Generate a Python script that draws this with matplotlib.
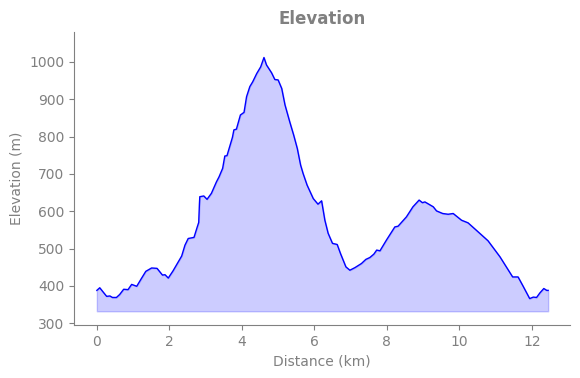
import matplotlib
matplotlib.use("Agg")
import matplotlib.pyplot as plt

distance_km = [0.0, 0.08, 0.17, 0.27, 0.36, 0.43, 0.54, 0.63, 0.74, 0.86, 0.96, 1.10,
               1.23, 1.35, 1.51, 1.66, 1.81, 1.88, 1.97, 2.10, 2.22, 2.34, 2.43, 2.52,
               2.68, 2.77, 2.81, 2.83, 2.84, 2.95, 3.04, 3.16, 3.30, 3.37, 3.47, 3.53,
               3.59, 3.74, 3.78, 3.85, 3.96, 4.06, 4.13, 4.22, 4.30, 4.41, 4.52, 4.61,
               4.68, 4.82, 4.91, 5.00, 5.10, 5.19, 5.32, 5.43, 5.53, 5.62, 5.69, 5.80,
               5.97, 6.10, 6.20, 6.29, 6.38, 6.50, 6.63, 6.72, 6.87, 6.98, 7.12, 7.30,
               7.42, 7.53, 7.64, 7.72, 7.81, 7.99, 8.22, 8.31, 8.54, 8.72, 8.89, 8.98,
               9.05, 9.28, 9.37, 9.54, 9.69, 9.83, 10.06, 10.24, 10.47, 10.79, 11.12,
               11.47, 11.62, 11.76, 11.94, 12.04, 12.13, 12.22, 12.33, 12.41, 12.45]
elevation_m = [388, 395, 384, 372, 373, 369, 369, 377, 391, 390, 404, 399,
               420, 439, 448, 447, 429, 430, 421, 440, 460, 480, 509, 527,
               530, 558, 570, 620, 639, 641, 632, 648, 679, 692, 715, 748,
               749, 798, 818, 820, 858, 865, 907, 934, 947, 969, 987, 1012,
               992, 971, 953, 952, 929, 885, 840, 804, 768, 724, 701, 670,
               634, 619, 628, 576, 541, 514, 511, 487, 451, 442, 449, 460,
               471, 476, 485, 496, 494, 523, 558, 560, 585, 612, 630, 623,
               625, 612, 601, 594, 592, 594, 576, 569, 549, 521, 478,
               424, 424, 399, 366, 370, 369, 381, 393, 388, 388]
fill_base = 332

fig = plt.figure(figsize=(5.8, 3.78), dpi=100)
ax = fig.add_axes([0.1276, 0.140, 0.855, 0.775])

ax.fill_between(distance_km, fill_base, elevation_m, color="blue", alpha=0.2)
ax.plot(distance_km, elevation_m, color="blue", linewidth=1.0)

ax.set_xlim(-0.63, 13.05)
ax.set_ylim(295, 1080)
ax.set_xticks([0, 2, 4, 6, 8, 10, 12])
ax.set_yticks([300, 400, 500, 600, 700, 800, 900, 1000])

ax.set_title("Elevation", fontsize=12, fontweight="bold", color="gray")
ax.set_xlabel("Distance (km)", color="gray")
ax.set_ylabel("Elevation (m)", color="gray")

for s in ["top", "right"]:
    ax.spines[s].set_visible(False)
for s in ["left", "bottom"]:
    ax.spines[s].set_color("gray")
ax.tick_params(colors="gray")

fig.savefig("out.png", dpi=100)
